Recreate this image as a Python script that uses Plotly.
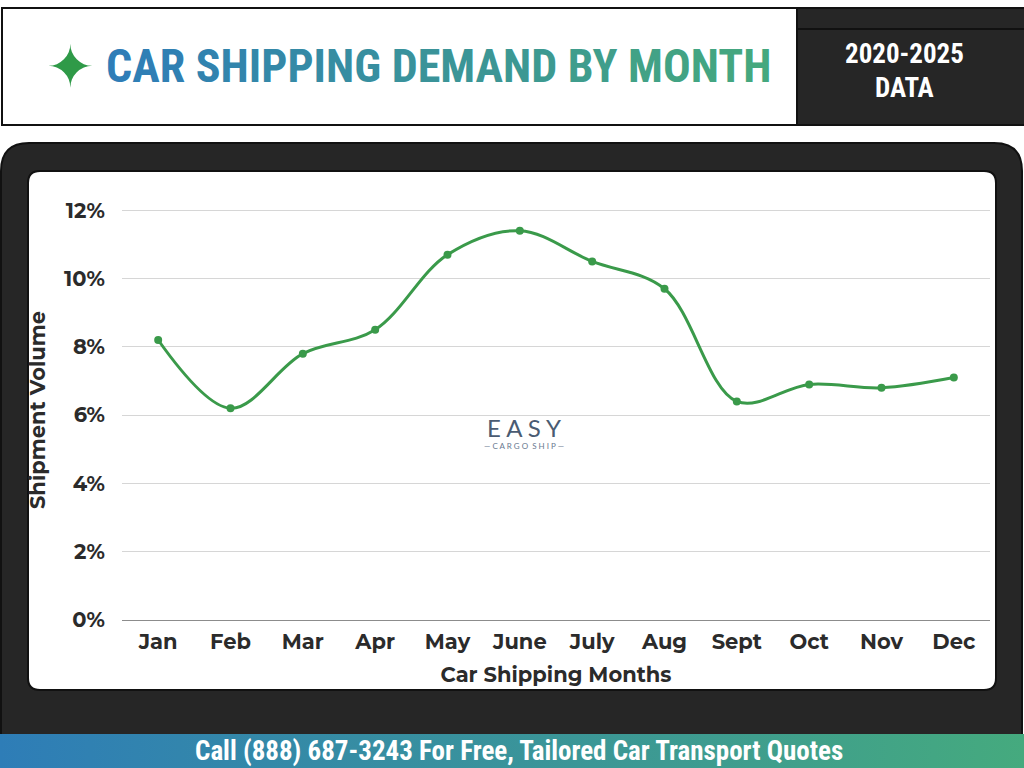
import plotly.graph_objects as go

months = ["Jan", "Feb", "Mar", "Apr", "May", "June", "July", "Aug", "Sept", "Oct", "Nov", "Dec"]
volume = [8.2, 6.2, 7.8, 8.5, 10.7, 11.4, 10.5, 9.7, 6.4, 6.9, 6.8, 7.1]
y_tick_vals = [0, 2, 4, 6, 8, 10, 12]
y_tick_text = ["0%", "2%", "4%", "6%", "8%", "10%", "12%"]
title_text = "CAR SHIPPING DEMAND BY MONTH"
badge_line1 = "2020-2025"
badge_line2 = "DATA"
banner_text = "Call (888) 687-3243 For Free, Tailored Car Transport Quotes"

W, H = 1024, 768
DARK = "#262626"
LINE_GREEN = "#3a9a4a"
TICK_FONT = "Montserrat, Lato, 'Open Sans', sans-serif"
COND_FONT = "'Roboto Condensed', 'Liberation Sans Narrow', 'Arial Narrow', Roboto, sans-serif"
TEXT_DARK = "#2b2b2b"


def X(p):
    return p / W


def Y(p):
    return 1 - p / H


def rrect(x0, y0, x1, y1, r):
    rx, ry = r / W, r / H
    a, b, c, d = X(x0), X(x1), Y(y0), Y(y1)
    return (f"M {a+rx},{c} L {b-rx},{c} Q {b},{c} {b},{c-ry} "
            f"L {b},{d+ry} Q {b},{d} {b-rx},{d} L {a+rx},{d} "
            f"Q {a},{d} {a},{d+ry} L {a},{c-ry} Q {a},{c} {a+rx},{c} Z")


def lerp_color(c0, c1, t):
    return "#%02x%02x%02x" % tuple(int(round(c0[i] + (c1[i] - c0[i]) * t)) for i in range(3))


fig = go.Figure()

fig.add_trace(go.Scatter(
    x=months, y=volume, mode="lines+markers",
    line=dict(color=LINE_GREEN, width=3, shape="spline", smoothing=1.0),
    marker=dict(color=LINE_GREEN, size=8),
    xaxis="x", yaxis="y", showlegend=False, hoverinfo="x+y",
))

# gradient banner
fig.add_trace(go.Scatter(
    x=[0, W, W, 0, 0], y=[734, 734, H, H, 734], mode="lines",
    fill="toself", line=dict(width=0),
    fillgradient=dict(type="horizontal", colorscale=[[0, "#2e7db7"], [1, "#45aa7e"]]),
    xaxis="x2", yaxis="y2", showlegend=False, hoverinfo="skip",
))

shapes = [
    dict(type="rect", xref="paper", yref="paper", x0=X(2), x1=X(797), y0=Y(125), y1=Y(8),
         fillcolor="white", line=dict(color="#111111", width=2), layer="below"),
    dict(type="rect", xref="paper", yref="paper", x0=X(797), x1=X(1025), y0=Y(125), y1=Y(8),
         fillcolor=DARK, line=dict(color="#111111", width=2), layer="below"),
    dict(type="line", xref="paper", yref="paper", x0=X(797), x1=X(1024), y0=Y(29), y1=Y(29),
         line=dict(color="#111111", width=2), layer="below"),
    dict(type="path", xref="paper", yref="paper", path=rrect(1, 143, 1022, 800, 28),
         fillcolor=DARK, line=dict(color="#111111", width=2), layer="below"),
    dict(type="path", xref="paper", yref="paper", path=rrect(28, 171, 996, 690, 12),
         fillcolor="white", line=dict(color="#111111", width=2), layer="below"),
]

c0, c1 = (46, 125, 183), (69, 168, 126)
n = len(title_text)
spans = "".join(
    f"<span style='color:{lerp_color(c0, c1, i / (n - 1))}'>{ch}</span>" if ch != " " else " "
    for i, ch in enumerate(title_text)
)

annotations = [
    dict(text="✦", x=X(70), y=Y(67), xref="paper", yref="paper", showarrow=False,
         font=dict(size=58, color="#2f9a48", family="DejaVu Sans"), xanchor="center", yanchor="middle"),
    dict(text=f"<b>{spans}</b>", x=X(438), y=Y(66), xref="paper", yref="paper", showarrow=False,
         font=dict(size=46, family=COND_FONT), xanchor="center", yanchor="middle"),
    dict(text=f"<b>{badge_line1}</b>", x=X(904), y=Y(71), xref="paper", yref="paper", showarrow=False,
         font=dict(size=27, color="white", family=COND_FONT), xanchor="center", yanchor="bottom",
         borderpad=0),
    dict(text=f"<b>{badge_line2}</b>", x=X(904), y=Y(71), xref="paper", yref="paper", showarrow=False,
         font=dict(size=27, color="white", family=COND_FONT), xanchor="center", yanchor="top",
         borderpad=0),
    dict(text=f"<b>{banner_text}</b>", x=X(519), y=Y(751), xref="paper", yref="paper", showarrow=False,
         font=dict(size=27, color="white", family=COND_FONT), xanchor="center", yanchor="middle"),
    dict(text="E A S Y", x=X(524), y=Y(427), xref="paper", yref="paper", showarrow=False,
         font=dict(size=24, color="#4a5b72", family="Lato, sans-serif"), xanchor="center", yanchor="middle"),
    dict(text="— C A R G O  S H I P —", x=X(524), y=Y(446), xref="paper", yref="paper", showarrow=False,
         font=dict(size=8, color="#6a7a90", family="Lato, sans-serif"), xanchor="center", yanchor="middle"),
]

fig.update_layout(
    width=W, height=H,
    margin=dict(l=0, r=0, t=0, b=0),
    paper_bgcolor="white",
    plot_bgcolor="rgba(0,0,0,0)",
    shapes=shapes,
    annotations=annotations,
    showlegend=False,
    xaxis=dict(
        domain=[X(122), X(990)], type="category", range=[-0.5, 11.5],
        showgrid=False, zeroline=False, showline=False, ticks="",
        tickfont=dict(size=21, color=TEXT_DARK, family=TICK_FONT, weight="bold"),
        ticklabelstandoff=7,
        title=dict(text="<b>Car Shipping Months</b>", standoff=14,
                   font=dict(size=21, color=TEXT_DARK, family=TICK_FONT)),
        automargin=False, fixedrange=True,
    ),
    yaxis=dict(
        domain=[Y(620), Y(200)], range=[0, 12.3],
        tickvals=y_tick_vals, ticktext=y_tick_text,
        showgrid=True, gridcolor="#d6d6d6", gridwidth=1,
        zeroline=True, zerolinecolor="#8c8c8c", zerolinewidth=1,
        showline=False, ticks="",
        tickfont=dict(size=21, color=TEXT_DARK, family=TICK_FONT, weight="bold"),
        ticklabelstandoff=16,
        title=dict(text="<b>Shipment Volume</b>", standoff=12,
                   font=dict(size=21, color=TEXT_DARK, family=TICK_FONT)),
        automargin=False, fixedrange=True,
    ),
    xaxis2=dict(domain=[0, 1], range=[0, W], visible=False, anchor="y2", fixedrange=True),
    yaxis2=dict(domain=[0, 1], range=[H, 0], visible=False, anchor="x2", fixedrange=True),
)

fig.write_html("out.html")
